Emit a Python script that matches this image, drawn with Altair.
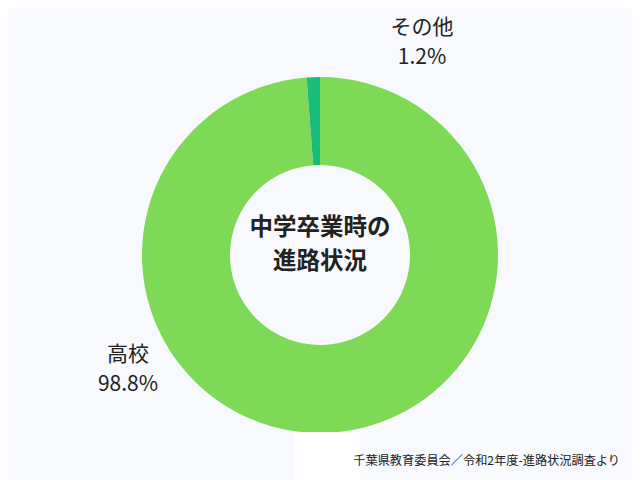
import altair as alt
import pandas as pd

categories = ["高校", "その他"]
values = [98.8, 1.2]
colors = ["#7ED957", "#17BD78"]
label_lines = [["高校", "98.8%"], ["その他", "1.2%"]]
center_title = ["中学卒業時の", "進路状況"]
source = "千葉県教育委員会／令和2年度-進路状況調査より"

df = pd.DataFrame({"cat": categories, "val": values, "order": [0, 1]})

FONT = "Noto Sans CJK JP"
W, H = 624, 464
CX, CY = 312, 247

ring = alt.Chart(df).mark_arc(outerRadius=178, innerRadius=90).encode(
    theta=alt.Theta("val:Q", stack=True),
    order=alt.Order("order:Q"),
    color=alt.Color("cat:N", scale=alt.Scale(domain=categories, range=colors), legend=None),
    x=alt.value(CX),
    y=alt.value(CY),
)

lab_df = pd.DataFrame({"cat": categories, "txt": label_lines})

lab_koukou = alt.Chart(lab_df[lab_df.cat == "高校"]).mark_text(
    font=FONT, fontSize=21, color="#222222", lineHeight=30, align="center", baseline="middle"
).encode(text="txt", x=alt.value(120), y=alt.value(347))

lab_other = alt.Chart(lab_df[lab_df.cat == "その他"]).mark_text(
    font=FONT, fontSize=21, color="#222222", lineHeight=30, align="center", baseline="middle"
).encode(text="txt", x=alt.value(414), y=alt.value(20))

center = alt.Chart(pd.DataFrame({"t": [center_title]})).mark_text(
    font=FONT, fontSize=23.5, fontWeight="bold", color="#222222", lineHeight=34,
    align="center", baseline="middle"
).encode(text="t", x=alt.value(CX), y=alt.value(220))

white_box = alt.Chart(pd.DataFrame({"a": [0]})).mark_rect(color="white").encode(
    x=alt.value(287), x2=alt.value(352), y=alt.value(424), y2=alt.value(472)
)

src = alt.Chart(pd.DataFrame({"s": [source]})).mark_text(
    font=FONT, fontSize=12.2, color="#222222", align="right", baseline="middle"
).encode(text="s", x=alt.value(612), y=alt.value(453))

chart = alt.layer(ring, white_box, lab_koukou, lab_other, center, src).properties(
    width=W, height=H, padding=0, background="#F7F9FC"
).configure_view(stroke=None)

chart.save("out.html", embed_options={"renderer": "svg", "actions": False})
